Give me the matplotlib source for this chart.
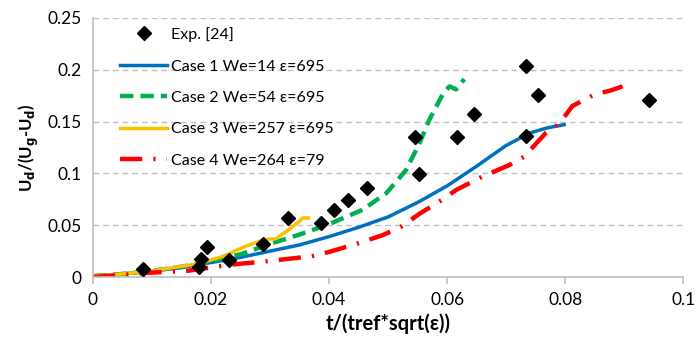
import numpy as np
import matplotlib
matplotlib.use("Agg")
import matplotlib.pyplot as plt

# experimental points, Exp. [24]
exp_x = [0.0084, 0.0183, 0.0180, 0.0193, 0.0230, 0.0288, 0.0330, 0.0386, 0.0408, 0.0432,
         0.0464, 0.0545, 0.0553, 0.0617, 0.0646, 0.0733, 0.0733, 0.0753, 0.0941]
exp_y = [0.0075, 0.0170, 0.0095, 0.0290, 0.0160, 0.0315, 0.0570, 0.0520, 0.0650, 0.0740,
         0.0860, 0.1355, 0.0990, 0.1355, 0.1570, 0.2035, 0.1360, 0.1760, 0.1705]

# Case 1 We=14 eps=695
c1_x = [0.0, 0.005, 0.01, 0.015, 0.02, 0.025, 0.03, 0.035, 0.04, 0.045, 0.05, 0.055,
        0.06, 0.065, 0.07, 0.074, 0.077, 0.0798]
c1_y = [0.001, 0.003, 0.006, 0.009, 0.014, 0.019, 0.025, 0.031, 0.039, 0.048, 0.058, 0.072,
        0.088, 0.107, 0.127, 0.139, 0.144, 0.147]

# Case 2 We=54 eps=695
c2_x = [0.0, 0.005, 0.01, 0.015, 0.02, 0.025, 0.03, 0.035, 0.04, 0.0457, 0.0497, 0.053,
        0.0553, 0.057, 0.0592, 0.0604, 0.0615, 0.0629]
c2_y = [0.001, 0.003, 0.006, 0.010, 0.015, 0.022, 0.032, 0.041, 0.051, 0.065, 0.081, 0.103,
        0.129, 0.152, 0.176, 0.184, 0.181, 0.191]

# Case 3 We=257 eps=695
c3_x = [0.0, 0.005, 0.01, 0.018, 0.022, 0.026, 0.029, 0.031, 0.033, 0.035, 0.0355, 0.0365]
c3_y = [0.001, 0.003, 0.006, 0.013, 0.020, 0.030, 0.036, 0.037, 0.045, 0.054, 0.057, 0.057]

# Case 4 We=264 eps=79
c4_x = [0.0, 0.005, 0.009, 0.016, 0.0234, 0.029, 0.037, 0.0401, 0.0449, 0.0491, 0.0522,
        0.0553, 0.059, 0.0615, 0.066, 0.0705, 0.073, 0.0767, 0.079, 0.0812, 0.0849,
        0.0877, 0.0897]
c4_y = [0.0, 0.002, 0.004, 0.006, 0.012, 0.015, 0.020, 0.0244, 0.0325, 0.0405, 0.0486,
        0.061, 0.074, 0.084, 0.097, 0.108, 0.116, 0.139, 0.148, 0.165, 0.176,
        0.180, 0.184]

labels = ["Exp. [24]", "Case 1 We=14 \u03b5=695", "Case 2 We=54 \u03b5=695",
          "Case 3 We=257 \u03b5=695", "Case 4 We=264 \u03b5=79"]

plt.rcParams['font.family'] = ['Lato', 'DejaVu Sans']

fig = plt.figure(figsize=(6.97, 3.45), dpi=100)
ax = fig.add_axes([0.1334, 0.197, 0.847, 0.751])

ax.plot(exp_x, exp_y, 'D', color='k', markersize=7.5, label=labels[0], zorder=5)
ax.plot(c1_x, c1_y, '-', color='#0070c0', lw=2.5, label=labels[1])
ax.plot(c2_x, c2_y, '--', color='#00b050', lw=3.2, dashes=(3, 1.6), label=labels[2])
ax.plot(c3_x, c3_y, '-', color='#ffc000', lw=2.5, label=labels[3])
ax.plot(c4_x, c4_y, color='#ff0000', lw=3.2, dashes=(5, 2.5, 0.5, 2.5), label=labels[4])

ax.set_xlim(0, 0.1)
ax.set_ylim(0, 0.25)
ax.set_xticks([0, 0.02, 0.04, 0.06, 0.08, 0.1])
ax.set_xticklabels(["0", "0.02", "0.04", "0.06", "0.08", "0.1"])
ax.set_yticks([0, 0.05, 0.1, 0.15, 0.2, 0.25])
ax.set_yticklabels(["0", "0.05", "0.1", "0.15", "0.2", "0.25"])

ax.grid(axis='y', color='#bfbfbf', linestyle=(0, (4, 3)), lw=1)
ax.set_axisbelow(True)
for s in ['top', 'right']:
    ax.spines[s].set_visible(False)
for s in ['left', 'bottom']:
    ax.spines[s].set_color('#bfbfbf')
    ax.spines[s].set_linewidth(1.2)
ax.tick_params(axis='x', colors='#bfbfbf', length=5, width=1.2, labelcolor='k', labelsize=12.5, pad=6)
ax.tick_params(axis='y', length=0, labelcolor='k', labelsize=12.5, pad=8)

ax.set_xlabel("t/(tref*sqrt(\u03b5))", fontsize=14.5, fontweight='bold', labelpad=4)
ax.set_ylabel("U$_\\mathbf{d}$/(U$_\\mathbf{g}$-U$_\\mathbf{d}$)", fontsize=12, fontweight='bold', labelpad=5)

leg = ax.legend(loc='upper left', bbox_to_anchor=(0.022, 1.02), frameon=False, fontsize=11.5,
                handlelength=2.9, labelspacing=1.08, handletextpad=0.25)

fig.savefig("out.png", dpi=100)
